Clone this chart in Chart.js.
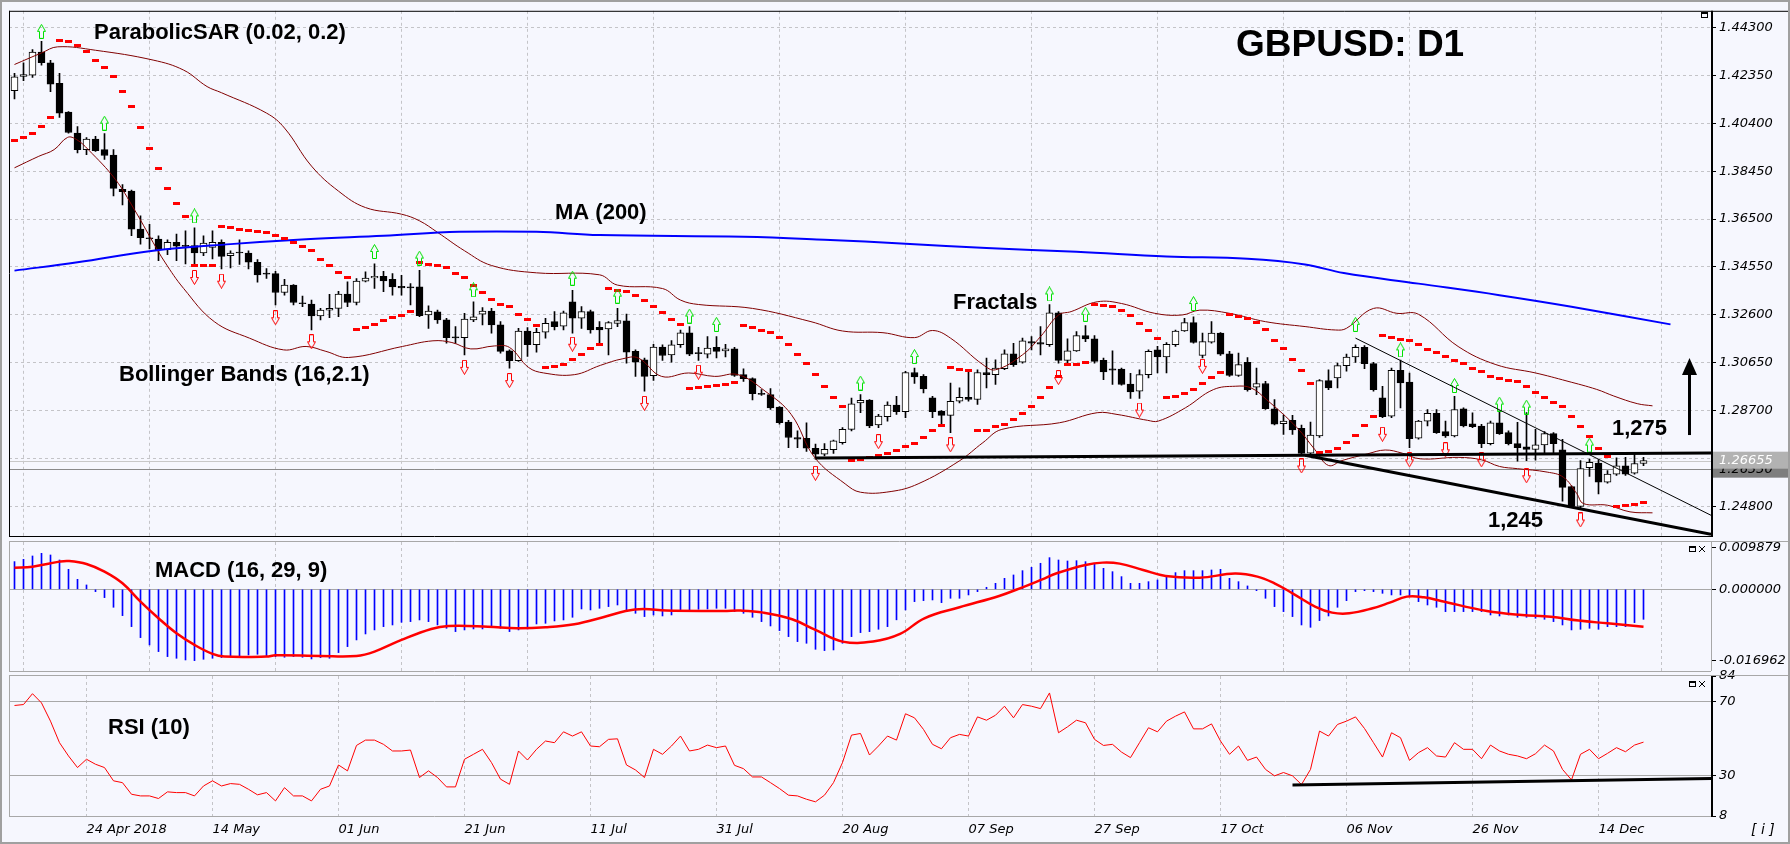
<!DOCTYPE html>
<html>
<head>
<meta charset="utf-8">
<script src="https://cdn.jsdelivr.net/npm/chart.js@4.4.1/dist/chart.umd.min.js"></script>
<style>
  html, body { margin: 0; padding: 0; background: #f6f7fe; }
  #wrap { position: relative; width: 1790px; height: 844px; background: #f6f7fe; overflow: hidden; }
  #wrap canvas { position: absolute; left: 0; top: 0; }
</style>
</head>
<body>
<div id="wrap">
  <canvas id="mainChart" width="1790" height="844"></canvas>
  <canvas id="macdChart" width="1790" height="844"></canvas>
  <canvas id="rsiChart" width="1790" height="844"></canvas>
</div>
<script>
// ---------- data (GBPUSD daily, 12 Apr - 21 Dec 2018, bar index 0..181) ----------
const DATE_TICKS = [8, 22, 36, 50, 64, 78, 92, 106, 120, 134, 148, 162, 176];
const DATE_LABELS = ['24 Apr 2018', '14 May', '01 Jun', '21 Jun', '11 Jul', '31 Jul', '20 Aug', '07 Sep', '27 Sep', '17 Oct', '06 Nov', '26 Nov', '14 Dec'];
const PRICE_TICKS = [1.443, 1.4235, 1.404, 1.3845, 1.365, 1.3455, 1.326, 1.3065, 1.287, 1.2675, 1.248];
const MACD_TICKS = [0.009879, 0, -0.016962];
const RSI_TICKS = [84, 70, 30, 8];
const RSI_LEVELS = [70, 30];

const OPEN = [
  1.4173, 1.4231, 1.4237, 1.4331, 1.4287, 1.4203, 1.4086, 1.4000, 1.3933, 1.3976,
  1.3933, 1.3911, 1.3771, 1.3764, 1.3609, 1.3574, 1.3569, 1.3525, 1.3555, 1.3542,
  1.3542, 1.3512, 1.3535, 1.3555, 1.3501, 1.3514, 1.3512, 1.3474, 1.3430, 1.3428,
  1.3351, 1.3381, 1.3308, 1.3304, 1.3255, 1.3279, 1.3286, 1.3344, 1.3310, 1.3397,
  1.3410, 1.3417, 1.3405, 1.3376, 1.3374, 1.3374, 1.3259, 1.3272, 1.3239, 1.3169,
  1.3167, 1.3239, 1.3263, 1.3275, 1.3219, 1.3113, 1.3073, 1.3194, 1.3138, 1.3189,
  1.3232, 1.3214, 1.3313, 1.3246, 1.3273, 1.3209, 1.3202, 1.3225, 1.3235, 1.3111,
  1.3077, 1.3012, 1.3128, 1.3097, 1.3138, 1.3187, 1.3106, 1.3100, 1.3127, 1.3113,
  1.3121, 1.3016, 1.3000, 1.2940, 1.2935, 1.2884, 1.2823, 1.2760, 1.2757, 1.2716,
  1.2692, 1.2710, 1.2739, 1.2793, 1.2901, 1.2912, 1.2811, 1.2845, 1.2892, 1.2865,
  1.3025, 1.3009, 1.2922, 1.2868, 1.2850, 1.2908, 1.2924, 1.2915, 1.3025, 1.3016,
  1.3040, 1.3101, 1.3067, 1.3151, 1.3147, 1.3138, 1.3268, 1.3074, 1.3113, 1.3175,
  1.3162, 1.3074, 1.3040, 1.3039, 1.2978, 1.2949, 1.3016, 1.3117, 1.3088, 1.3138,
  1.3194, 1.3228, 1.3094, 1.3148, 1.3185, 1.3101, 1.3013, 1.3066, 1.2965, 1.2980,
  1.2877, 1.2816, 1.2830, 1.2797, 1.2696, 1.2766, 1.2992, 1.3003, 1.3053, 1.3088,
  1.3127, 1.3061, 1.2922, 1.2847, 1.3034, 1.2986, 1.2757, 1.2827, 1.2858, 1.2784,
  1.2766, 1.2877, 1.2816, 1.2807, 1.2735, 1.2820, 1.2780, 1.2735, 1.2722, 1.2711,
  1.2730, 1.2776, 1.2710, 1.2560, 1.2479, 1.2637, 1.2656, 1.2578, 1.2611, 1.2645,
  1.2615, 1.2654
];
const HIGH = [
  1.4244, 1.4287, 1.4341, 1.4374, 1.4297, 1.4244, 1.4088, 1.4027, 1.3982, 1.3987,
  1.3998, 1.3933, 1.3791, 1.3768, 1.3663, 1.3629, 1.3582, 1.3566, 1.3589, 1.3602,
  1.3614, 1.3582, 1.3602, 1.3566, 1.3521, 1.3566, 1.3521, 1.3485, 1.3448, 1.3437,
  1.3405, 1.3383, 1.3336, 1.3320, 1.3286, 1.3343, 1.3356, 1.3394, 1.3408, 1.3435,
  1.3468, 1.3437, 1.3428, 1.3421, 1.3387, 1.3441, 1.3297, 1.3279, 1.3246, 1.3212,
  1.3266, 1.3313, 1.3289, 1.3286, 1.3232, 1.3117, 1.3205, 1.3208, 1.3205, 1.3246,
  1.3273, 1.3275, 1.3360, 1.3293, 1.3279, 1.3232, 1.3232, 1.3286, 1.3263, 1.3117,
  1.3084, 1.3140, 1.3138, 1.3155, 1.3198, 1.3212, 1.3127, 1.3171, 1.3171, 1.3140,
  1.3127, 1.3040, 1.3003, 1.2955, 1.2959, 1.2886, 1.2830, 1.2787, 1.2820, 1.2733,
  1.2735, 1.2749, 1.2800, 1.2921, 1.2935, 1.2915, 1.2854, 1.2905, 1.2928, 1.3030,
  1.3043, 1.3016, 1.2928, 1.2870, 1.2982, 1.2962, 1.3030, 1.3036, 1.3084, 1.3077,
  1.3117, 1.3144, 1.3165, 1.3171, 1.3212, 1.3302, 1.3273, 1.3162, 1.3192, 1.3216,
  1.3175, 1.3084, 1.3113, 1.3043, 1.3021, 1.3036, 1.3117, 1.3131, 1.3147, 1.3198,
  1.3246, 1.3252, 1.3185, 1.3232, 1.3188, 1.3111, 1.3104, 1.3086, 1.3043, 1.2989,
  1.2915, 1.2851, 1.2850, 1.2811, 1.2823, 1.2996, 1.3036, 1.3063, 1.3100, 1.3138,
  1.3135, 1.3066, 1.2969, 1.3043, 1.3075, 1.3023, 1.2830, 1.2874, 1.2874, 1.2827,
  1.2928, 1.2881, 1.2861, 1.2814, 1.2827, 1.2868, 1.2787, 1.2822, 1.2862, 1.2793,
  1.2784, 1.2780, 1.2753, 1.2563, 1.2666, 1.2672, 1.2670, 1.2625, 1.2677, 1.2679,
  1.2692, 1.2679
];
const LOW = [
  1.4140, 1.4214, 1.4227, 1.4277, 1.4169, 1.4064, 1.4000, 1.3920, 1.3913, 1.3926,
  1.3893, 1.3744, 1.3708, 1.3582, 1.3548, 1.3528, 1.3481, 1.3505, 1.3481, 1.3467,
  1.3461, 1.3501, 1.3488, 1.3447, 1.3451, 1.3465, 1.3447, 1.3393, 1.3408, 1.3300,
  1.3340, 1.3300, 1.3293, 1.3198, 1.3239, 1.3248, 1.3252, 1.3293, 1.3300, 1.3394,
  1.3367, 1.3354, 1.3340, 1.3340, 1.3300, 1.3252, 1.3205, 1.3225, 1.3144, 1.3144,
  1.3097, 1.3232, 1.3219, 1.3185, 1.3104, 1.3043, 1.3070, 1.3090, 1.3108, 1.3165,
  1.3198, 1.3198, 1.3185, 1.3205, 1.3185, 1.3138, 1.3097, 1.3212, 1.3063, 1.3009,
  1.2949, 1.2993, 1.3074, 1.3067, 1.3127, 1.3093, 1.3074, 1.3084, 1.3084, 1.3088,
  1.3009, 1.2989, 1.2913, 1.2931, 1.2874, 1.2814, 1.2719, 1.2719, 1.2703, 1.2672,
  1.2685, 1.2695, 1.2733, 1.2787, 1.2861, 1.2800, 1.2800, 1.2827, 1.2854, 1.2841,
  1.2980, 1.2942, 1.2841, 1.2807, 1.2780, 1.2901, 1.2908, 1.2895, 1.2962, 1.2976,
  1.3036, 1.3050, 1.3063, 1.3117, 1.3097, 1.3131, 1.3063, 1.3063, 1.3111, 1.3151,
  1.3063, 1.2996, 1.2976, 1.2973, 1.2919, 1.2919, 1.3003, 1.3023, 1.3023, 1.3131,
  1.3192, 1.3144, 1.3084, 1.3144, 1.3094, 1.3009, 1.3009, 1.2949, 1.2935, 1.2874,
  1.2811, 1.2773, 1.2773, 1.2692, 1.2692, 1.2760, 1.2955, 1.2962, 1.3030, 1.3066,
  1.3040, 1.2949, 1.2841, 1.2841, 1.2881, 1.2719, 1.2753, 1.2807, 1.2777, 1.2760,
  1.2762, 1.2803, 1.2800, 1.2719, 1.2730, 1.2773, 1.2730, 1.2664, 1.2666, 1.2668,
  1.2695, 1.2692, 1.2501, 1.2474, 1.2474, 1.2601, 1.2530, 1.2574, 1.2605, 1.2605,
  1.2611, 1.2645
];
const CLOSE = [
  1.4230, 1.4239, 1.4331, 1.4287, 1.4200, 1.4082, 1.4003, 1.3933, 1.3976, 1.3929,
  1.3909, 1.3775, 1.3762, 1.3609, 1.3574, 1.3570, 1.3525, 1.3555, 1.3540, 1.3539,
  1.3512, 1.3552, 1.3555, 1.3498, 1.3512, 1.3512, 1.3474, 1.3423, 1.3426, 1.3351,
  1.3381, 1.3310, 1.3305, 1.3255, 1.3279, 1.3286, 1.3344, 1.3310, 1.3397, 1.3410,
  1.3417, 1.3398, 1.3374, 1.3370, 1.3370, 1.3256, 1.3275, 1.3239, 1.3167, 1.3166,
  1.3243, 1.3252, 1.3275, 1.3219, 1.3111, 1.3073, 1.3194, 1.3138, 1.3189, 1.3225,
  1.3212, 1.3268, 1.3246, 1.3273, 1.3198, 1.3198, 1.3228, 1.3236, 1.3108, 1.3067,
  1.3009, 1.3128, 1.3094, 1.3138, 1.3187, 1.3100, 1.3102, 1.3124, 1.3111, 1.3121,
  1.3013, 1.3000, 1.2939, 1.2936, 1.2881, 1.2820, 1.2760, 1.2753, 1.2716, 1.2692,
  1.2712, 1.2746, 1.2793, 1.2897, 1.2911, 1.2807, 1.2847, 1.2892, 1.2865, 1.3025,
  1.3007, 1.2958, 1.2865, 1.2850, 1.2907, 1.2924, 1.2915, 1.3025, 1.3016, 1.3043,
  1.3101, 1.3057, 1.3154, 1.3144, 1.3140, 1.3268, 1.3074, 1.3113, 1.3175, 1.3162,
  1.3070, 1.3027, 1.3034, 1.2976, 1.2946, 1.3016, 1.3111, 1.3088, 1.3140, 1.3194,
  1.3228, 1.3147, 1.3151, 1.3185, 1.3100, 1.3013, 1.3057, 1.2955, 1.2980, 1.2877,
  1.2814, 1.2827, 1.2791, 1.2695, 1.2770, 1.2992, 1.2962, 1.3053, 1.3088, 1.3127,
  1.3061, 1.2955, 1.2845, 1.3034, 1.2982, 1.2755, 1.2827, 1.2858, 1.2780, 1.2766,
  1.2874, 1.2807, 1.2804, 1.2735, 1.2820, 1.2776, 1.2735, 1.2719, 1.2711, 1.2730,
  1.2776, 1.2735, 1.2557, 1.2479, 1.2633, 1.2659, 1.2578, 1.2611, 1.2645, 1.2611,
  1.2654, 1.2666
];
// Parabolic SAR (0.02, 0.2), one dot per bar
const SAR = [
  1.3971, 1.3983, 1.4000, 1.4027, 1.4064, 1.4377, 1.4372, 1.4356, 1.4331, 1.4295,
  1.4266, 1.4230, 1.4169, 1.4109, 1.4023, 1.3938, 1.3857, 1.3776, 1.3712, 1.3659,
  1.3461, 1.3461, 1.3461, 1.3619, 1.3614, 1.3609, 1.3605, 1.3601, 1.3594, 1.3585,
  1.3571, 1.3555, 1.3537, 1.3521, 1.3487, 1.3461, 1.3432, 1.3412, 1.3202, 1.3208,
  1.3219, 1.3235, 1.3247, 1.3259, 1.3275, 1.3474, 1.3466, 1.3459, 1.3451, 1.3430,
  1.3410, 1.3378, 1.3349, 1.3322, 1.3304, 1.3293, 1.3263, 1.3239, 1.3216, 1.3046,
  1.3050, 1.3059, 1.3077, 1.3097, 1.3121, 1.3138, 1.3367, 1.3360, 1.3354, 1.3340,
  1.3320, 1.3295, 1.3269, 1.3239, 1.3219, 1.2958, 1.2965, 1.2969, 1.2973, 1.2975,
  1.2985, 1.3216, 1.3209, 1.3198, 1.3188, 1.3167, 1.3140, 1.3100, 1.3063, 1.3016,
  1.2966, 1.2924, 1.2888, 1.2665, 1.2669, 1.2679, 1.2688, 1.2696, 1.2708, 1.2722,
  1.2737, 1.2760, 1.2787, 1.2810, 1.3046, 1.3036, 1.3032, 1.2787, 1.2789, 1.2804,
  1.2814, 1.2834, 1.2858, 1.2888, 1.2924, 1.2965, 1.3010, 1.3057, 1.3057, 1.3066,
  1.3300, 1.3296, 1.3293, 1.3279, 1.3259, 1.3225, 1.3194, 1.3165, 1.2924, 1.2928,
  1.2938, 1.2955, 1.2980, 1.3006, 1.3026, 1.3262, 1.3255, 1.3243, 1.3228, 1.3202,
  1.3155, 1.3124, 1.3077, 1.3032, 1.2980, 1.2700, 1.2703, 1.2714, 1.2738, 1.2767,
  1.2808, 1.2844, 1.3177, 1.3166, 1.3160, 1.3157, 1.3140, 1.3119, 1.3106, 1.3091,
  1.3073, 1.3061, 1.3043, 1.3027, 1.3010, 1.3001, 1.2994, 1.2990, 1.2968, 1.2942,
  1.2925, 1.2901, 1.2885, 1.2844, 1.2804, 1.2763, 1.2716, 1.2682, 1.2477, 1.2483,
  1.2487, 1.2495
];
// [bar, price] readings of the smooth indicator lines
const MA200 = [[0, 1.3440], [7, 1.3474], [15.4, 1.3521], [24, 1.3548], [32.4, 1.3568], [41, 1.3582], [49.4, 1.3598], [58, 1.3598], [65, 1.3585], [81, 1.3578], [90, 1.3566], [99, 1.3550], [108, 1.3532], [118, 1.3517], [128, 1.3498], [137, 1.3488], [143.4, 1.3465], [147.7, 1.3430], [156, 1.3387], [165, 1.3340], [173, 1.3293], [184, 1.3221]];
const BB_UPPER = [[0, 1.4280], [3, 1.4327], [4.8, 1.4352], [9, 1.4338], [15.4, 1.4298], [18.8, 1.4257], [21.4, 1.4190], [23, 1.4165], [28, 1.4082], [30, 1.4021], [33, 1.3866], [36, 1.3764], [39, 1.3697], [43, 1.3670], [45, 1.3643], [47, 1.3596], [50, 1.3521], [53, 1.3461], [58, 1.3431], [65, 1.3423], [67, 1.3381], [72, 1.3367], [74, 1.3320], [76, 1.3302], [82, 1.3286], [88.5, 1.3232], [92, 1.3194], [96.5, 1.3187], [100, 1.3167], [102, 1.3196], [104, 1.3165], [107.6, 1.3057], [109, 1.3036], [112, 1.3097], [114, 1.3171], [116, 1.3259], [117.4, 1.3273], [120.3, 1.3313], [123, 1.3306], [126.7, 1.3266], [129.7, 1.3259], [131.7, 1.3279], [135, 1.3266], [139, 1.3232], [143.4, 1.3212], [146.8, 1.3198], [148, 1.3205], [151, 1.3286], [153.6, 1.3266], [156, 1.3262], [160.4, 1.3131], [164.6, 1.3057], [169, 1.3023], [172.5, 1.2990], [175.8, 1.2956], [177.7, 1.2929], [180.3, 1.2898], [182, 1.2889]];
const BB_LOWER = [[0, 1.3859], [2.7, 1.3906], [4.4, 1.3933], [5.9, 1.3983], [6.9, 1.3974], [8.2, 1.3933], [11.2, 1.3812], [13.3, 1.3690], [15.4, 1.3555], [16.7, 1.3475], [18.8, 1.3367], [22.2, 1.3232], [26.1, 1.3165], [29.9, 1.3117], [32.4, 1.3131], [34.6, 1.3111], [37.1, 1.3086], [43.1, 1.3131], [46.5, 1.3154], [48.6, 1.3147], [50.7, 1.3121], [53.3, 1.3133], [55, 1.3127], [57.1, 1.3046], [58.8, 1.3023], [62.2, 1.3016], [65.1, 1.3054], [67.6, 1.3081], [69.3, 1.3084], [71.9, 1.3009], [74.9, 1.3023], [77.8, 1.3009], [80.4, 1.3016], [83.4, 1.2949], [86.3, 1.2854], [88.9, 1.2679], [92.3, 1.2571], [94, 1.2537], [97.4, 1.2540], [100.4, 1.2571], [105, 1.2665], [107.6, 1.2739], [109.7, 1.2793], [116.1, 1.2820], [120.3, 1.2861], [122.5, 1.2854], [125.9, 1.2830], [127.1, 1.2827], [130.1, 1.2881], [133.2, 1.2955], [135.7, 1.2969], [137.4, 1.2962], [139.1, 1.2915], [142.5, 1.2800], [144.5, 1.2710], [146, 1.2646], [147.5, 1.2666], [150.3, 1.2693], [152.3, 1.2709], [154.2, 1.2696], [156.2, 1.2673], [160.4, 1.2679], [163, 1.2669], [165, 1.2642], [167, 1.2633], [170.3, 1.2619], [172.1, 1.2598], [173.6, 1.2531], [174.3, 1.2491], [177, 1.2484], [179.5, 1.2457], [182, 1.2453]];
const FRACTAL_UP = [[3, 1.4415], [10, 1.4041], [20, 1.3663], [40, 1.3518], [45, 1.3491], [51, 1.3362], [62, 1.3409], [67, 1.3336], [75, 1.3255], [78, 1.3221], [94, 1.2982], [100, 1.3090], [115, 1.3345], [119, 1.3262], [131, 1.3306], [149, 1.3221], [154, 1.3117], [160, 1.2972], [165, 1.2896], [168, 1.2884], [175, 1.2729]];
const FRACTAL_DOWN = [[20, 1.3412], [23, 1.3397], [29, 1.3248], [33, 1.3150], [50, 1.3046], [55, 1.2992], [62, 1.3140], [70, 1.2899], [76, 1.3026], [89, 1.2614], [96, 1.2743], [104, 1.2730], [116, 1.3004], [125, 1.2872], [132, 1.3050], [143, 1.2644], [152, 1.2773], [155, 1.2669], [159, 1.2710], [163, 1.2669], [168, 1.2604], [174, 1.2424]];
// hand-drawn objects: [bar, value] end points
const SUPPORT_LINE = [[89, 1.2676], [188.5, 1.2697]];
const LOWER_LINE = [[143.4, 1.2688], [188.5, 1.2366]];
const FALLING_LINE = [[149, 1.3165], [188.5, 1.2443]];
const RSI_LINE = [[142, 24.8], [188.5, 28.4]];
const TARGET_ARROW = { bar: 186.1, from: 1.2770, to: 1.3084 };
const BID = 1.26655;
const LINE2 = 1.2633;

const MACD_HIST = [
  0.00662, 0.00717, 0.00797, 0.00861, 0.00821, 0.00701, 0.00478, 0.00239, 0.00104, -0.00056,
  -0.00199, -0.00430, -0.00630, -0.00893, -0.01156, -0.01331, -0.01490, -0.01610, -0.01650, -0.01690,
  -0.01706, -0.01674, -0.01650, -0.01634, -0.01610, -0.01594, -0.01570, -0.01554, -0.01586, -0.01610,
  -0.01626, -0.01610, -0.01626, -0.01666, -0.01634, -0.01650, -0.01514, -0.01371, -0.01211, -0.01068,
  -0.00972, -0.00893, -0.00853, -0.00789, -0.00773, -0.00733, -0.00773, -0.00853, -0.00932, -0.01012,
  -0.00972, -0.00948, -0.00948, -0.00917, -0.00932, -0.01012, -0.00972, -0.00948, -0.00829, -0.00813,
  -0.00757, -0.00733, -0.00669, -0.00470, -0.00494, -0.00454, -0.00414, -0.00375, -0.00494, -0.00574,
  -0.00653, -0.00614, -0.00638, -0.00614, -0.00534, -0.00494, -0.00478, -0.00470, -0.00454, -0.00454,
  -0.00534, -0.00574, -0.00669, -0.00773, -0.00877, -0.00988, -0.01132, -0.01251, -0.01291, -0.01435,
  -0.01466, -0.01451, -0.01291, -0.01132, -0.01036, -0.01012, -0.00956, -0.00893, -0.00730, -0.00494,
  -0.00295, -0.00271, -0.00255, -0.00319, -0.00215, -0.00215, -0.00135, -0.00056, 0.00048, 0.00143,
  0.00263, 0.00343, 0.00446, 0.00526, 0.00622, 0.00757, 0.00701, 0.00677, 0.00685, 0.00661,
  0.00622, 0.00502, 0.00422, 0.00303, 0.00143, 0.00143, 0.00183, 0.00223, 0.00303, 0.00399,
  0.00446, 0.00446, 0.00446, 0.00462, 0.00478, 0.00263, 0.00183, 0.00080, -0.00032, -0.00215,
  -0.00414, -0.00534, -0.00653, -0.00853, -0.00909, -0.00749, -0.00638, -0.00430, -0.00271, -0.00056,
  -0.00032, -0.00056, -0.00096, -0.00135, -0.00135, -0.00159, -0.00295, -0.00375, -0.00430, -0.00534,
  -0.00534, -0.00534, -0.00534, -0.00534, -0.00614, -0.00638, -0.00614, -0.00669, -0.00669, -0.00693,
  -0.00717, -0.00773, -0.00853, -0.00972, -0.00957, -0.00933, -0.00957, -0.00893, -0.00893, -0.00893,
  -0.00797, -0.00718
];
const MACD_SIGNAL = [[0, 0.00518], [2, 0.00542], [5, 0.00662], [6, 0.00677], [8, 0.00606], [10, 0.00422], [12, 0.00143], [14, -0.00295], [16, -0.00693], [18, -0.01052], [20, -0.01331], [22, -0.01546], [23.3, -0.01610], [28, -0.01610], [29, -0.01578], [34, -0.01594], [38, -0.01594], [40, -0.01490], [43, -0.01211], [46.3, -0.00948], [48.2, -0.00877], [52.6, -0.00893], [55.8, -0.00932], [59, -0.00909], [62.2, -0.00837], [65.4, -0.00669], [67.9, -0.00518], [69.9, -0.00470], [72.4, -0.00510], [78.8, -0.00518], [80.7, -0.00510], [83.2, -0.00558], [86.4, -0.00717], [89, -0.00972], [92, -0.01251], [95.4, -0.01251], [98.4, -0.01068], [101.1, -0.00693], [105, -0.00430], [109.4, -0.00159], [112, 0.00048], [114.2, 0.00239], [115.8, 0.00383], [119, 0.00582], [120.9, 0.00638], [122.8, 0.00614], [125.4, 0.00462], [127.9, 0.00319], [131.7, 0.00279], [135.6, 0.00375], [138.1, 0.00303], [140, 0.00143], [142, -0.00096], [144.5, -0.00414], [146.4, -0.00558], [148.3, -0.00574], [150.9, -0.00454], [152.8, -0.00319], [154.7, -0.00175], [156.6, -0.00191], [158.5, -0.00279], [163.6, -0.00518], [167.5, -0.00614], [170.7, -0.00654], [173.8, -0.00749], [177, -0.00813], [181, -0.00893]];
const RSI = [
  68.0, 68.5, 74.4, 69.4, 59.5, 47.8, 40.6, 34.3, 38.8, 36.1,
  34.3, 27.1, 26.1, 19.8, 18.9, 18.9, 17.5, 21.1, 20.7, 20.7,
  18.9, 24.3, 27.1, 24.3, 25.6, 25.2, 22.5, 19.5, 20.7, 16.2,
  23.4, 18.9, 18.9, 16.2, 22.5, 24.3, 35.7, 32.5, 46.3, 49.2,
  49.2, 46.9, 43.3, 43.3, 43.8, 28.9, 32.5, 28.9, 23.8, 23.8,
  38.8, 41.5, 44.2, 37.0, 28.0, 25.2, 43.3, 38.4, 44.2, 48.7,
  47.8, 53.7, 51.4, 53.7, 46.0, 45.6, 49.6, 49.9, 35.7, 33.0,
  28.9, 44.2, 41.5, 46.0, 51.4, 43.3, 44.2, 46.5, 45.1, 46.0,
  35.5, 33.7, 29.2, 29.2, 26.1, 22.9, 19.3, 18.9, 17.1, 15.7,
  19.3, 26.1, 37.0, 51.9, 52.8, 41.1, 46.0, 51.4, 49.2, 63.5,
  61.3, 55.0, 46.9, 44.5, 50.5, 52.3, 51.4, 61.8, 60.0, 62.7,
  67.6, 61.3, 68.5, 67.6, 66.3, 74.8, 53.2, 56.4, 60.0, 58.6,
  49.6, 46.3, 46.9, 42.7, 39.7, 47.8, 55.9, 53.7, 59.5, 62.2,
  64.5, 55.3, 55.3, 58.0, 48.7, 41.5, 46.0, 38.2, 40.0, 33.3,
  29.8, 31.6, 29.8, 25.1, 33.3, 54.1, 51.4, 57.7, 59.5, 61.8,
  55.5, 47.8, 40.0, 53.2, 50.5, 38.2, 42.4, 45.1, 40.6, 40.0,
  47.8, 44.2, 44.2, 39.1, 46.5, 43.3, 41.5, 40.6, 39.1, 41.8,
  46.5, 43.3, 33.3, 27.6, 41.5, 44.2, 39.1, 42.0, 45.1, 42.9,
  46.5, 48.1
];

// ---------- look ----------
const X_MIN = -0.6111, X_MAX = 188.5;   // 9 px per bar
const GRID = '#c4c4c8';
const AXIS_FONT = { family: 'DejaVu Sans', size: 13, style: 'italic' };
const BOLD = '"Liberation Sans", Arial, sans-serif';

const pts = arr => arr.map(([x, y]) => ({ x, y }));

// little glyphs used as point styles
function makeDash() {
  const c = document.createElement('canvas');
  c.width = 7; c.height = 3;
  const g = c.getContext('2d');
  g.fillStyle = '#ff0000';
  g.fillRect(0, 0, 7, 3);
  return c;
}
function makeArrow(up, color) {
  const c = document.createElement('canvas');
  c.width = 9; c.height = 15;
  const g = c.getContext('2d');
  g.strokeStyle = color; g.lineWidth = 1;
  const shape = [[4.5, 0.5], [8.5, 7.5], [6.5, 7.5], [6.5, 14.5], [2.5, 14.5], [2.5, 7.5], [0.5, 7.5]];
  g.beginPath();
  shape.forEach(([x, y], k) => {
    const yy = up ? y : 15 - y;
    if (k === 0) g.moveTo(x, yy); else g.lineTo(x, yy);
  });
  g.closePath();
  g.stroke();
  return c;
}

function xAxis(showLabels) {
  return {
    type: 'linear', min: X_MIN, max: X_MAX, offset: false,
    afterBuildTicks: s => { s.ticks = DATE_TICKS.map(v => ({ value: v })); },
    afterFit: s => { s.height = showLabels ? 28 : 0; },
    grid: { color: GRID, drawTicks: false },
    border: { display: false, dash: [3, 3] },
    ticks: {
      display: showLabels, autoSkip: false, maxRotation: 0, align: 'start', padding: 6,
      font: AXIS_FONT, color: '#000',
      callback: (v, i) => DATE_LABELS[i]
    }
  };
}
function yAxis(min, max, ticks, fmt, gridColor, dash) {
  return {
    position: 'right', min, max,
    afterBuildTicks: s => { s.ticks = ticks.map(v => ({ value: v })); },
    afterFit: s => { s.width = 79; },
    grid: { color: gridColor, tickColor: '#000', tickLength: 5 },
    border: { display: false, dash },
    ticks: { autoSkip: false, padding: 3, font: AXIS_FONT, color: '#000', callback: fmt }
  };
}

function boldText(ctx, text, x, y, size) {
  ctx.font = 'bold ' + size + 'px ' + BOLD;
  ctx.fillStyle = '#000';
  ctx.textAlign = 'left';
  ctx.textBaseline = 'alphabetic';
  ctx.fillText(text, x, y);
}
function hline(ctx, x1, x2, y, color, w) {
  ctx.strokeStyle = color; ctx.lineWidth = w || 1;
  ctx.beginPath(); ctx.moveTo(x1, y); ctx.lineTo(x2, y); ctx.stroke();
}
function vline(ctx, x, y1, y2, color, w) {
  ctx.strokeStyle = color; ctx.lineWidth = w || 1;
  ctx.beginPath(); ctx.moveTo(x, y1); ctx.lineTo(x, y2); ctx.stroke();
}
function windowIcons(ctx, x, y, withClose) {
  ctx.strokeStyle = '#000'; ctx.lineWidth = 1;
  ctx.strokeRect(x + 0.5, y + 0.5, 6, 5);
  ctx.fillStyle = '#000'; ctx.fillRect(x, y, 7, 2);
  if (withClose) {
    ctx.beginPath();
    ctx.moveTo(x + 10, y); ctx.lineTo(x + 16, y + 6);
    ctx.moveTo(x + 16, y); ctx.lineTo(x + 10, y + 6);
    ctx.stroke();
  }
}

const common = {
  responsive: false, animation: false, events: [],
  plugins: { legend: { display: false }, tooltip: { enabled: false } }
};

// ---------- main price panel ----------
const mainDecor = {
  id: 'mainDecor',
  beforeDatasetsDraw(chart) {
    const { ctx, chartArea: a, scales: { y } } = chart;
    ctx.save();
    hline(ctx, a.left, a.right, Math.round(y.getPixelForValue(BID)) + 0.5, '#c8c8c8');
    hline(ctx, a.left, a.right, Math.round(y.getPixelForValue(LINE2)) + 0.5, '#8a8a8a');
    ctx.restore();
  },
  afterDraw(chart) {
    const { ctx, chartArea: a, scales: { x, y } } = chart;
    ctx.save();
    // frame
    hline(ctx, a.left, 1790, a.top + 0.5, '#000');
    hline(ctx, a.left, a.right, a.bottom + 0.5, '#000');
    vline(ctx, a.left + 0.5, a.top, a.bottom, '#000');
    vline(ctx, a.right + 1, a.top, a.bottom + 1, '#000', 2);
    // labels
    boldText(ctx, 'ParabolicSAR (0.02, 0.2)', 94, 39, 22);
    boldText(ctx, 'MA (200)', 555, 219, 22);
    boldText(ctx, 'GBPUSD: D1', 1236, 56, 37);
    boldText(ctx, 'Bollinger Bands (16,2.1)', 119, 381, 22);
    boldText(ctx, 'Fractals', 953, 309, 22);
    boldText(ctx, '1,275', 1612, 435, 22);
    boldText(ctx, '1,245', 1488, 527, 22);
    // target arrow
    const ax = Math.round(x.getPixelForValue(TARGET_ARROW.bar));
    const yFrom = y.getPixelForValue(TARGET_ARROW.from);
    const yTo = y.getPixelForValue(TARGET_ARROW.to);
    ctx.fillStyle = '#000';
    ctx.fillRect(ax - 1, yTo + 12, 3, yFrom - yTo - 12);
    ctx.beginPath();
    ctx.moveTo(ax + 0.5, yTo);
    ctx.lineTo(ax + 8, yTo + 17);
    ctx.lineTo(ax - 7, yTo + 17);
    ctx.closePath();
    ctx.fill();
    // current price boxes
    const p2 = y.getPixelForValue(LINE2);
    const p1 = y.getPixelForValue(BID);
    ctx.font = 'italic 13px "DejaVu Sans", sans-serif';
    ctx.textBaseline = 'middle'; ctx.textAlign = 'left';
    ctx.fillStyle = '#7e7e7e'; ctx.fillRect(1713, p2 - 6, 77, 15);
    ctx.fillStyle = '#000'; ctx.fillText(LINE2.toFixed(5), 1719, p2 + 1);
    ctx.fillStyle = '#b2b2b2'; ctx.fillRect(1713, p1 - 9, 77, 17);
    ctx.fillStyle = '#fff'; ctx.fillText(BID.toFixed(5), 1719, p1);
    windowIcons(ctx, 1701, 12, false);
    ctx.restore();
  }
};

const candleColor = ctx => {
  const i = ctx.dataIndex;
  return CLOSE[i] >= OPEN[i] ? '#ffffff' : '#000000';
};

new Chart(document.getElementById('mainChart'), {
  type: 'line',
  data: {
    datasets: [
      { type: 'line', data: pts(SUPPORT_LINE), borderColor: '#000', borderWidth: 3, pointRadius: 0, order: 0 },
      { type: 'line', data: pts(LOWER_LINE), borderColor: '#000', borderWidth: 3, pointRadius: 0, order: 0 },
      { type: 'line', data: pts(FALLING_LINE), borderColor: '#000', borderWidth: 1, pointRadius: 0, order: 0 },
      { type: 'line', data: pts(FRACTAL_UP), showLine: false, pointStyle: makeArrow(true, '#00e000'), pointRadius: 4, order: 1 },
      { type: 'line', data: pts(FRACTAL_DOWN), showLine: false, pointStyle: makeArrow(false, '#ff0000'), pointRadius: 4, order: 1 },
      { type: 'line', data: SAR.map((v, i) => ({ x: i, y: v })), showLine: false, pointStyle: makeDash(), pointRadius: 3, order: 2 },
      { type: 'line', data: pts(MA200), borderColor: '#0000ff', borderWidth: 2, pointRadius: 0, tension: 0.4, order: 3 },
      { type: 'line', data: pts(BB_UPPER), borderColor: '#800000', borderWidth: 1, pointRadius: 0, tension: 0.4, order: 4 },
      { type: 'line', data: pts(BB_LOWER), borderColor: '#800000', borderWidth: 1, pointRadius: 0, tension: 0.4, order: 4 },
      { type: 'bar', data: OPEN.map((o, i) => ({ x: i, y: [o, CLOSE[i]] })), grouped: false, barThickness: 7, minBarLength: 1,
        backgroundColor: candleColor, borderColor: '#000', borderWidth: 1, borderSkipped: false, order: 5 },
      { type: 'bar', data: LOW.map((l, i) => ({ x: i, y: [l, HIGH[i]] })), grouped: false, barThickness: 1,
        backgroundColor: '#000', borderWidth: 0, order: 6 }
    ]
  },
  options: {
    ...common,
    layout: { autoPadding: false, padding: { left: 9, top: 7, right: 0, bottom: 308 } },
    scales: {
      x: xAxis(false),
      y: yAxis(1.23586, 1.44988, PRICE_TICKS, v => v.toFixed(5), GRID, [3, 3])
    }
  },
  plugins: [mainDecor]
});

// ---------- MACD panel ----------
const macdDecor = {
  id: 'macdDecor',
  afterDraw(chart) {
    const { ctx, chartArea: a } = chart;
    ctx.save();
    hline(ctx, a.left, 1790, a.top - 0.5, '#a8a8a8');
    hline(ctx, a.left, a.right, a.bottom + 0.5, '#a8a8a8');
    vline(ctx, a.left + 0.5, a.top, a.bottom, '#a8a8a8');
    vline(ctx, a.right + 0.5, a.top, a.bottom, '#a8a8a8');
    boldText(ctx, 'MACD (16, 29, 9)', 155, 577, 22);
    windowIcons(ctx, 1689, 546, true);
    ctx.restore();
  }
};

new Chart(document.getElementById('macdChart'), {
  type: 'line',
  data: {
    datasets: [
      { type: 'line', data: pts(MACD_SIGNAL), borderColor: '#ff0000', borderWidth: 2.5, pointRadius: 0, tension: 0.4, order: 0 },
      { type: 'bar', data: MACD_HIST.map((v, i) => ({ x: i, y: v })), barThickness: 1, backgroundColor: '#0000ff', borderWidth: 0, order: 1 }
    ]
  },
  options: {
    ...common,
    layout: { autoPadding: false, padding: { left: 9, top: 542, right: 0, bottom: 173 } },
    scales: {
      x: xAxis(false),
      y: yAxis(-0.019541, 0.011313, MACD_TICKS, v => v.toFixed(6),
        c => (c.tick && c.tick.value === 0 ? '#a8a8a8' : 'rgba(0,0,0,0)'), [])
    }
  },
  plugins: [macdDecor]
});

// ---------- RSI panel ----------
const rsiDecor = {
  id: 'rsiDecor',
  afterDraw(chart) {
    const { ctx, chartArea: a } = chart;
    ctx.save();
    hline(ctx, a.left, 1790, a.top - 0.5, '#a8a8a8');
    hline(ctx, a.left, a.right, a.bottom + 0.5, '#a8a8a8');
    vline(ctx, a.left + 0.5, a.top, a.bottom, '#a8a8a8');
    vline(ctx, a.right + 1, a.top, a.bottom, '#000', 2);
    boldText(ctx, 'RSI (10)', 108, 734, 22);
    windowIcons(ctx, 1689, 681, true);
    ctx.font = 'italic 14px "DejaVu Sans", sans-serif';
    ctx.fillStyle = '#000'; ctx.textBaseline = 'middle'; ctx.textAlign = 'left';
    ctx.fillText('[ i ]', 1751, 830);
    // window frame
    ctx.strokeStyle = '#a0a0a0'; ctx.lineWidth = 2;
    ctx.strokeRect(1, 1, 1788, 842);
    ctx.restore();
  }
};

new Chart(document.getElementById('rsiChart'), {
  type: 'line',
  data: {
    datasets: [
      { data: pts(RSI_LINE), borderColor: '#000', borderWidth: 3, pointRadius: 0, order: 0 },
      { data: RSI.map((v, i) => ({ x: i, y: v })), borderColor: '#ff0000', borderWidth: 1, pointRadius: 0, tension: 0, order: 1 }
    ]
  },
  options: {
    ...common,
    layout: { autoPadding: false, padding: { left: 9, top: 676, right: 0, bottom: 0 } },
    scales: {
      x: xAxis(true),
      y: yAxis(8, 84, RSI_TICKS, v => String(v),
        c => (c.tick && RSI_LEVELS.includes(c.tick.value) ? '#a8a8a8' : 'rgba(0,0,0,0)'), [])
    }
  },
  plugins: [rsiDecor]
});
</script>
</body>
</html>
